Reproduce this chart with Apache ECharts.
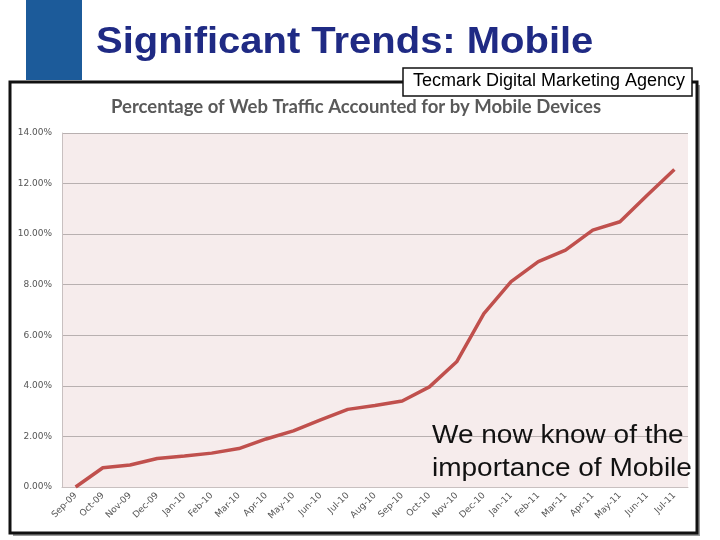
<!DOCTYPE html>
<html><head><meta charset="utf-8">
<script src="https://cdn.jsdelivr.net/npm/echarts@6/dist/echarts.min.js"></script>
<style>html,body{margin:0;padding:0;background:#fff}#c{width:720px;height:540px}</style>
</head><body><div id="c"></div>
<script>
const categories = ['Sep-09','Oct-09','Nov-09','Dec-09','Jan-10','Feb-10','Mar-10','Apr-10','May-10','Jun-10','Jul-10','Aug-10','Sep-10','Oct-10','Nov-10','Dec-10','Jan-11','Feb-11','Mar-11','Apr-11','May-11','Jun-11','Jul-11'];
const mobileShare = [0.00,0.76,0.87,1.13,1.23,1.34,1.52,1.90,2.22,2.65,3.07,3.22,3.40,3.96,4.95,6.86,8.12,8.91,9.37,10.16,10.49,11.54,12.56];
const yTicks = [0,2,4,6,8,10,12,14];
const slideTitle = 'Significant Trends: Mobile';
const chartTitle = 'Percentage of Web Traffic Accounted for by Mobile Devices';
const sourceLabel = 'Tecmark Digital Marketing Agency';
const noteLines = ['We now know of the', 'importance of Mobile'];

const chart = echarts.init(document.getElementById('c'), null, {renderer:'canvas'});
chart.setOption({
  animation:false,
  backgroundColor:'#fff',
  graphic:[
    {type:'rect', z:-5, shape:{x:26,y:0,width:56,height:80}, style:{fill:'#1c5b9a'}},
    {type:'text', x:96, y:24, scaleX:1.08, style:{text:slideTitle, x:0, y:0, verticalAlign:'top', font:'bold 37px "Liberation Sans", Arial', fill:'#1f2a84'}},
    {type:'rect', z:-4, shape:{x:13,y:85,width:687,height:451}, style:{fill:'#9a9a9a'}},
    {type:'rect', z:-3, shape:{x:10,y:82,width:687,height:451}, style:{fill:'#fff', stroke:'#111', lineWidth:3}},
    {type:'rect', z:10, shape:{x:403,y:68,width:289,height:28}, style:{fill:'#fff', stroke:'#111', lineWidth:1.5}},
    {type:'text', z:11, x:413, y:72, style:{text:sourceLabel, x:0, y:0, verticalAlign:'top', font:'18px "Liberation Sans", Arial', fill:'#000'}},
    {type:'text', z:11, x:356, y:98, style:{text:chartTitle, x:0, y:0, align:'center', verticalAlign:'top', font:'bold 18.5px Lato, "Open Sans", sans-serif', fill:'#595959'}},
    {type:'text', z:11, x:432, y:420, scaleX:1.12, style:{text:noteLines.join('\n'), x:0, y:0, verticalAlign:'top', font:'25px "Liberation Sans", Arial', fill:'#111', lineHeight:33}}
  ],
  grid:{left:62, right:32, top:133, bottom:53, show:true, backgroundColor:'#f6ecec', borderWidth:0},
  xAxis:{type:'category', data:categories, boundaryGap:true,
    axisLine:{show:true, lineStyle:{color:'#c8c0c0'}}, axisTick:{show:false},
    axisLabel:{rotate:45, fontSize:9, fontFamily:'DejaVu Sans', color:'#555', margin:7, interval:0}},
  yAxis:{type:'value', min:0, max:14, interval:2,
    axisLine:{show:true, lineStyle:{color:'#c8c0c0'}}, axisTick:{show:false},
    splitLine:{lineStyle:{color:'#b8b0b0', width:1}},
    axisLabel:{formatter:v=>v.toFixed(2)+'%', fontSize:9, fontFamily:'DejaVu Sans', color:'#555', margin:10}},
  series:[{type:'line', data:mobileShare, symbol:'none', lineStyle:{color:'#c0504d', width:3.5}}]
});
</script></body></html>
